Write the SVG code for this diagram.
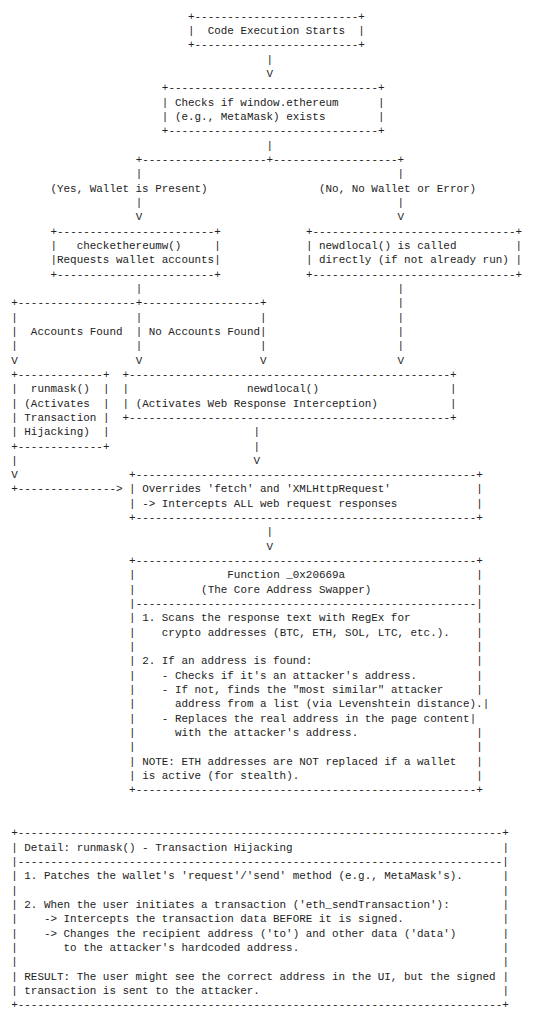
<svg xmlns="http://www.w3.org/2000/svg" width="534" height="1024" viewBox="0 0 534 1024" xml:space="preserve">
<style>
text { font-family: "Liberation Mono", "DejaVu Sans Mono", monospace; font-size: 10.915px; fill: #222222; white-space: pre; }
</style>
<rect x="0" y="0" width="534" height="1024" fill="#ffffff"/>

<g id="connectors">
<text x="266.61" y="62.59">|</text>
<text x="266.61" y="76.92">V</text>
<text x="266.61" y="148.57">|</text>
<text x="135.63" y="162.9" textLength="268.51" lengthAdjust="spacing">+-------------------+-------------------+</text>
<text x="135.63" y="177.23">|</text><text x="397.59" y="177.23">|</text>
<text x="50.49" y="191.56">(Yes, Wallet is Present)</text>
<text x="319.00" y="191.56">(No, No Wallet or Error)</text>
<text x="135.63" y="205.89">|</text><text x="397.59" y="205.89">|</text>
<text x="135.63" y="220.22">V</text><text x="397.59" y="220.22">V</text>
<text x="135.63" y="291.87">|</text><text x="397.59" y="291.87">|</text>
<text x="11.2" y="306.2" textLength="255.41" lengthAdjust="spacing">+------------------+------------------+</text>
<text x="397.59" y="306.2">|</text>
<text x="11.2" y="320.53">|</text><text x="135.63" y="320.53">|</text><text x="260.06" y="320.53">|</text><text x="397.59" y="320.53">|</text>
<text x="11.2" y="334.86">|</text><text x="30.85" y="334.86">Accounts Found</text><text x="135.63" y="334.86">|</text><text x="148.73" y="334.86">No Accounts Found</text><text x="260.06" y="334.86">|</text><text x="397.59" y="334.86">|</text>
<text x="11.2" y="349.19">|</text><text x="135.63" y="349.19">|</text><text x="260.06" y="349.19">|</text><text x="397.59" y="349.19">|</text>
<text x="11.2" y="363.52">V</text><text x="135.63" y="363.52">V</text><text x="260.06" y="363.52">V</text><text x="397.59" y="363.52">V</text>
<text x="253.51" y="435.17">|</text>
<text x="253.51" y="449.5">|</text>
<text x="11.2" y="463.83">|</text><text x="253.51" y="463.83">V</text>
<text x="11.2" y="478.16">V</text>
<text x="11.2" y="492.49" textLength="111.33" lengthAdjust="spacing">+---------------&gt;</text>
<text x="266.61" y="535.48">|</text>
<text x="266.61" y="549.81">V</text>
</g>

<g id="node-start">
<text x="188.02" y="19.6" textLength="176.82" lengthAdjust="spacing">+-------------------------+</text>
<text x="188.02" y="33.93">|</text><text x="207.67" y="33.93">Code Execution Starts</text><text x="358.30" y="33.93">|</text>
<text x="188.02" y="48.26" textLength="176.82" lengthAdjust="spacing">+-------------------------+</text>
</g>

<g id="node-check-ethereum">
<text x="161.83" y="91.25" textLength="222.67" lengthAdjust="spacing">+--------------------------------+</text>
<text x="161.83" y="105.58">|</text><text x="174.93" y="105.58">Checks if window.ethereum</text><text x="377.94" y="105.58">|</text>
<text x="161.83" y="119.91">|</text><text x="174.93" y="119.91">(e.g., MetaMask) exists</text><text x="377.94" y="119.91">|</text>
<text x="161.83" y="134.24" textLength="222.67" lengthAdjust="spacing">+--------------------------------+</text>
</g>

<g id="node-checkethereumw">
<text x="50.49" y="234.55" textLength="170.27" lengthAdjust="spacing">+------------------------+</text>
<text x="50.49" y="248.88">|</text><text x="76.69" y="248.88">checkethereumw()</text><text x="214.22" y="248.88">|</text>
<text x="50.49" y="263.21">|</text><text x="57.04" y="263.21">Requests wallet accounts</text><text x="214.22" y="263.21">|</text>
<text x="50.49" y="277.54" textLength="170.27" lengthAdjust="spacing">+------------------------+</text>
</g>

<g id="node-newdlocal-direct">
<text x="305.91" y="234.55" textLength="216.12" lengthAdjust="spacing">+-------------------------------+</text>
<text x="305.91" y="248.88">|</text><text x="319.00" y="248.88">newdlocal() is called</text><text x="515.47" y="248.88">|</text>
<text x="305.91" y="263.21">|</text><text x="319.00" y="263.21">directly (if not already run)</text><text x="515.47" y="263.21">|</text>
<text x="305.91" y="277.54" textLength="216.12" lengthAdjust="spacing">+-------------------------------+</text>
</g>

<g id="node-runmask">
<text x="11.2" y="377.85" textLength="98.24" lengthAdjust="spacing">+-------------+</text>
<text x="11.2" y="392.18">|</text><text x="30.85" y="392.18">runmask()</text><text x="102.89" y="392.18">|</text>
<text x="11.2" y="406.51">|</text><text x="24.30" y="406.51">(Activates</text><text x="102.89" y="406.51">|</text>
<text x="11.2" y="420.84">|</text><text x="24.30" y="420.84">Transaction</text><text x="102.89" y="420.84">|</text>
<text x="11.2" y="435.17">|</text><text x="24.30" y="435.17">Hijacking)</text><text x="102.89" y="435.17">|</text>
<text x="11.2" y="449.5" textLength="98.24" lengthAdjust="spacing">+-------------+</text>
</g>

<g id="node-newdlocal">
<text x="122.53" y="377.85" textLength="334.0" lengthAdjust="spacing">+-------------------------------------------------+</text>
<text x="122.53" y="392.18">|</text><text x="246.96" y="392.18">newdlocal()</text><text x="449.98" y="392.18">|</text>
<text x="122.53" y="406.51">|</text><text x="135.63" y="406.51">(Activates Web Response Interception)</text><text x="449.98" y="406.51">|</text>
<text x="122.53" y="420.84" textLength="334.0" lengthAdjust="spacing">+-------------------------------------------------+</text>
</g>

<g id="node-overrides">
<text x="129.08" y="478.16" textLength="353.65" lengthAdjust="spacing">+----------------------------------------------------+</text>
<text x="129.08" y="492.49">|</text><text x="142.18" y="492.49">Overrides 'fetch' and 'XMLHttpRequest'</text><text x="476.18" y="492.49">|</text>
<text x="129.08" y="506.82">|</text><text x="142.18" y="506.82">-&gt; Intercepts ALL web request responses</text><text x="476.18" y="506.82">|</text>
<text x="129.08" y="521.15" textLength="353.65" lengthAdjust="spacing">+----------------------------------------------------+</text>
</g>

<g id="node-function">
<text x="129.08" y="564.14" textLength="353.65" lengthAdjust="spacing">+----------------------------------------------------+</text>
<text x="129.08" y="578.47">|</text><text x="227.32" y="578.47">Function _0x20669a</text><text x="476.18" y="578.47">|</text>
<text x="129.08" y="592.8">|</text><text x="201.12" y="592.8">(The Core Address Swapper)</text><text x="476.18" y="592.8">|</text>
<text x="129.08" y="607.13" textLength="353.65" lengthAdjust="spacing">|----------------------------------------------------|</text>
<text x="129.08" y="621.46">|</text><text x="142.18" y="621.46">1. Scans the response text with RegEx for</text><text x="476.18" y="621.46">|</text>
<text x="129.08" y="635.79">|</text><text x="161.83" y="635.79">crypto addresses (BTC, ETH, SOL, LTC, etc.).</text><text x="476.18" y="635.79">|</text>
<text x="129.08" y="650.12">|</text><text x="476.18" y="650.12">|</text>
<text x="129.08" y="664.45">|</text><text x="142.18" y="664.45">2. If an address is found:</text><text x="476.18" y="664.45">|</text>
<text x="129.08" y="678.78">|</text><text x="161.83" y="678.78">- Checks if it's an attacker's address.</text><text x="476.18" y="678.78">|</text>
<text x="129.08" y="693.11">|</text><text x="161.83" y="693.11">- If not, finds the "most similar" attacker</text><text x="476.18" y="693.11">|</text>
<text x="129.08" y="707.44">|</text><text x="174.93" y="707.44">address from a list (via Levenshtein distance).</text><text x="482.73" y="707.44">|</text>
<text x="129.08" y="721.77">|</text><text x="161.83" y="721.77">- Replaces the real address in the page content</text><text x="469.63" y="721.77">|</text>
<text x="129.08" y="736.1">|</text><text x="174.93" y="736.1">with the attacker's address.</text><text x="476.18" y="736.1">|</text>
<text x="129.08" y="750.43">|</text><text x="476.18" y="750.43">|</text>
<text x="129.08" y="764.76">|</text><text x="142.18" y="764.76">NOTE: ETH addresses are NOT replaced if a wallet</text><text x="476.18" y="764.76">|</text>
<text x="129.08" y="779.09">|</text><text x="142.18" y="779.09">is active (for stealth).</text><text x="476.18" y="779.09">|</text>
<text x="129.08" y="793.42" textLength="353.65" lengthAdjust="spacing">+----------------------------------------------------+</text>
</g>

<g id="node-runmask-detail">
<text x="11.2" y="836.41" textLength="497.72" lengthAdjust="spacing">+--------------------------------------------------------------------------+</text>
<text x="11.2" y="850.74">|</text><text x="24.30" y="850.74">Detail: runmask() - Transaction Hijacking</text><text x="502.38" y="850.74">|</text>
<text x="11.2" y="865.07" textLength="497.72" lengthAdjust="spacing">|--------------------------------------------------------------------------|</text>
<text x="11.2" y="879.4">|</text><text x="24.30" y="879.4">1. Patches the wallet's 'request'/'send' method (e.g., MetaMask's).</text><text x="502.38" y="879.4">|</text>
<text x="11.2" y="893.73">|</text><text x="502.38" y="893.73">|</text>
<text x="11.2" y="908.06">|</text><text x="24.30" y="908.06">2. When the user initiates a transaction ('eth_sendTransaction'):</text><text x="502.38" y="908.06">|</text>
<text x="11.2" y="922.39">|</text><text x="43.95" y="922.39">-&gt; Intercepts the transaction data BEFORE it is signed.</text><text x="502.38" y="922.39">|</text>
<text x="11.2" y="936.72">|</text><text x="43.95" y="936.72">-&gt; Changes the recipient address ('to') and other data ('data')</text><text x="502.38" y="936.72">|</text>
<text x="11.2" y="951.05">|</text><text x="63.59" y="951.05">to the attacker's hardcoded address.</text><text x="502.38" y="951.05">|</text>
<text x="11.2" y="965.38">|</text><text x="502.38" y="965.38">|</text>
<text x="11.2" y="979.71">|</text><text x="24.30" y="979.71">RESULT: The user might see the correct address in the UI, but the signed</text><text x="502.38" y="979.71">|</text>
<text x="11.2" y="994.04">|</text><text x="24.30" y="994.04">transaction is sent to the attacker.</text><text x="502.38" y="994.04">|</text>
<text x="11.2" y="1008.37" textLength="497.72" lengthAdjust="spacing">+--------------------------------------------------------------------------+</text>
</g>
</svg>
